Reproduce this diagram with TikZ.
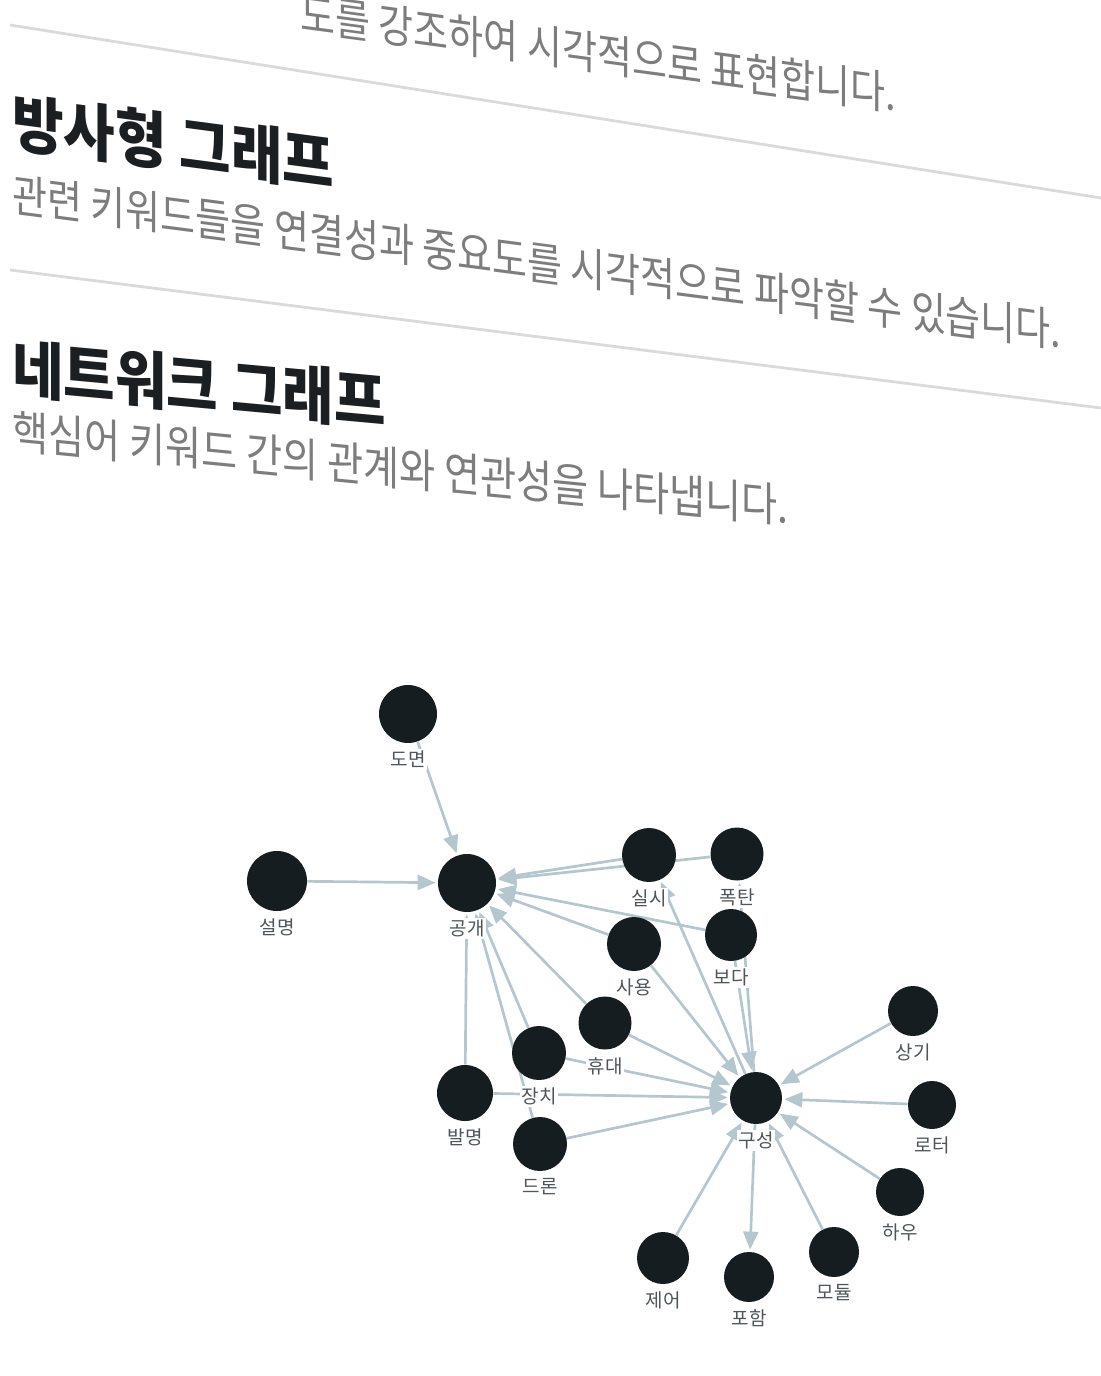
\documentclass[tikz,border=0pt]{standalone}
\usepackage{fontspec}
\newfontfamily\cjk{Noto Sans CJK KR}
\usetikzlibrary{arrows.meta,backgrounds}
\definecolor{nodeblack}{HTML}{161D20}
\definecolor{edgegrey}{HTML}{B4C7CE}
\definecolor{lblgrey}{HTML}{4F5558}
\definecolor{bodygrey}{HTML}{7D7D7D}
\definecolor{rulegrey}{HTML}{DADADA}
\definecolor{headblack}{HTML}{1C1F22}
\tikzset{>={Triangle[length=9pt,width=7.5pt]},
	kw/.style={circle,fill=nodeblack,inner sep=0pt,minimum size=27pt},
	lbl/.style={font=\cjk\fontsize{9.5}{11}\selectfont,text=lblgrey,fill=white,inner sep=1pt,label distance=2.5pt},
	rel/.style={->,draw=edgegrey,line width=1.35pt,shorten >=1pt},
	head/.style={font=\cjk\bfseries\fontsize{28}{32}\selectfont,text=headblack,anchor=base west,inner sep=0pt},
	desc/.style={font=\cjk\fontsize{19}{23}\selectfont,text=bodygrey,anchor=base west,inner sep=0pt},
	sep/.style={draw=rulegrey,line width=1.4pt}}

\begin{document}
\begin{tikzpicture}[x=0.5pt,y=-0.5pt]
		\useasboundingbox (0,0) rectangle (1101,1376);
		% text above the graph
		\node (t0) at (300,30) [desc,cm={1,-0.135,0,1.2,(0,0)}] {도를 강조하여 시각적으로 표현합니다.};
		\coordinate (r1a) at (10,25);
		\coordinate (r1b) at (1101,198);
		\draw [sep] (r1a) -- (r1b);
		\node (h1) at (12,145) [head,cm={1,-0.132,0,1.12,(0,0)}] {방사형 그래프};
		\node (t1) at (12,211) [desc,cm={1,-0.13,0,1.2,(0,0)}] {관련 키워드들을 연결성과 중요도를 시각적으로 파악할 수 있습니다.};
		\coordinate (r2a) at (10,270);
		\coordinate (r2b) at (1101,408);
		\draw [sep] (r2a) -- (r2b);
		\node (h2) at (12,391) [head,cm={1,-0.092,0,1.12,(0,0)}] {네트워크 그래프};
		\node (t2) at (12,448) [desc,font=\cjk\fontsize{19.6}{23}\selectfont,cm={1,-0.097,0,1.18,(0,0)}] {핵심어 키워드 간의 관계와 연관성을 나타냅니다.};
		% keyword nodes
		\node (domyeon) at (408,714) [kw,minimum size=29pt,label={[lbl]below:도면}] {};
		\node (seolmyeong) at (277,881) [kw,minimum size=30pt,label={[lbl]below:설명}] {};
		\node (gonggae) at (467,883) [kw,minimum size=29pt,label={[lbl]below:공개}] {};
		\node (silsi) at (649,855) [kw,label={[lbl]below:실시}] {};
		\node (poktan) at (737,854) [kw,minimum size=26.5pt,label={[lbl]below:폭탄}] {};
		\node (boda) at (731,935) [kw,minimum size=26pt,label={[lbl]below:보다}] {};
		\node (sayong) at (634,944) [kw,label={[lbl]below:사용}] {};
		\node (hyudae) at (605,1023) [kw,minimum size=26.5pt,label={[lbl]below:휴대}] {};
		\node (jangchi) at (539,1053) [kw,label={[lbl]below:장치}] {};
		\node (balmyeong) at (465,1093) [kw,minimum size=28pt,label={[lbl]below:발명}] {};
		\node (deuron) at (540,1144) [kw,label={[lbl]below:드론}] {};
		\node (guseong) at (756,1098) [kw,minimum size=26pt,label={[lbl]below:구성}] {};
		\node (sanggi) at (913,1011) [kw,minimum size=25pt,label={[lbl]below:상기}] {};
		\node (roteo) at (932,1105) [kw,minimum size=24pt,label={[lbl]below:로터}] {};
		\node (hau) at (900,1192) [kw,minimum size=24pt,label={[lbl]below:하우}] {};
		\node (jeeo) at (663,1258) [kw,minimum size=26pt,label={[lbl]below:제어}] {};
		\node (poham) at (749,1277) [kw,minimum size=25pt,label={[lbl]below:포함}] {};
		\node (modul) at (834,1252) [kw,minimum size=25pt,label={[lbl]below:모듈}] {};
		% relations
		\begin{pgfonlayer}{background}
		\draw [rel] (domyeon) -- (gonggae);
		\draw [rel] (seolmyeong) -- (gonggae);
		\draw [rel] (poktan) -- (gonggae);
		\draw [rel] (silsi) -- (gonggae);
		\draw [rel] (boda) -- (gonggae);
		\draw [rel] (sayong) -- (gonggae);
		\draw [rel] (hyudae) -- (gonggae);
		\draw [rel] (jangchi) -- (gonggae);
		\draw [rel] (deuron) -- (gonggae);
		\draw [rel] (balmyeong) -- (gonggae);
		\draw [rel] (sayong) -- (guseong);
		\draw [rel] (hyudae) -- (guseong);
		\draw [rel] (jangchi) -- (guseong);
		\draw [rel] (balmyeong) -- (guseong);
		\draw [rel] (deuron) -- (guseong);
		\draw [rel] (boda) -- (guseong);
		\draw [rel] (guseong) -- (poktan);
		\draw [rel] (guseong) -- (silsi);
		\draw [rel] (sanggi) -- (guseong);
		\draw [rel] (roteo) -- (guseong);
		\draw [rel] (hau) -- (guseong);
		\draw [rel] (modul) -- (guseong);
		\draw [rel] (jeeo) -- (guseong);
		\draw [rel] (guseong) -- (poham);
		\end{pgfonlayer}
\end{tikzpicture}
\end{document}
